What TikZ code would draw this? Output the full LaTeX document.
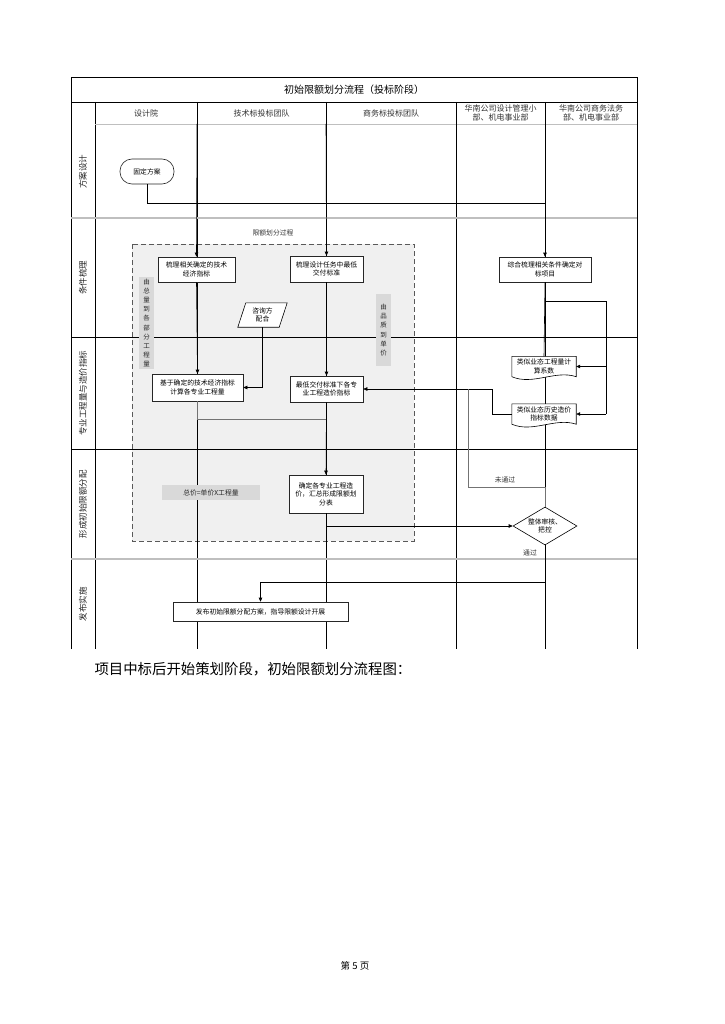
\documentclass[tikz,border=0pt]{standalone}
\usepackage{fontspec}
\setmainfont{Noto Sans CJK SC}
\usetikzlibrary{arrows.meta,shapes.geometric,calc}
\begin{document}
\begin{tikzpicture}[x=1pt,y=-1pt,
  box/.style={draw=black!85,fill=white,line width=0.6pt,inner sep=1pt,align=center,font=\fontsize{6.8}{8.5}\selectfont},
  arr/.style={-{Triangle[length=4pt,width=3.5pt]},line width=0.6pt},
  ln/.style={line width=0.6pt},
  thinln/.style={line width=0.6pt,black!55},
  grid/.style={line width=0.8pt,black},
  lanegray/.style={line width=1.3pt,black!25},
  lane/.style={rotate=90,font=\fontsize{8.5}{10}\selectfont,text=black!85},
  hdr/.style={font=\fontsize{8}{9.5}\selectfont,align=center,text=black!80},
  strip/.style={fill=black!15,inner sep=0pt,align=center,font=\fontsize{6.5}{9.2}\selectfont,text=black!85},
  lbl/.style={font=\fontsize{6.8}{8}\selectfont,text=black!80}
]
\useasboundingbox (0,0) rectangle (724,1024);
\fill[white] (0,0) rectangle (724,1024);

% dashed process region
\draw[black!65,fill=black!6,line width=0.8pt,dash pattern=on 5pt off 3pt] (132,244) rectangle (414,541);
\node[lbl] (regionlbl) at (273,233) {限额划分过程};

% frame and grid
\draw[grid] (71,649) -- (71,77) -- (637,77) -- (637,649);
\draw[grid] (71,102) -- (637,102);
\draw[grid] (95,102) -- (95,649);
\draw[lanegray,line width=0.9pt] (95,124) -- (637,124);
\foreach \cx in {197,326,456,545} \draw[grid] (\cx,102) -- (\cx,649);
\draw[lanegray] (71,218) -- (637,218);
\draw[grid] (71,337) -- (637,337);
\draw[grid] (71,449) -- (637,449);
\draw[lanegray] (71,559) -- (637,559);

% title and headers
\node[font=\fontsize{10}{12}\selectfont] (title) at (354,89.5) {初始限额划分流程（投标阶段）};
\node[hdr] (h1) at (146,113) {设计院};
\node[hdr] (h2) at (261.5,113) {技术标投标团队};
\node[hdr] (h3) at (391,113) {商务标投标团队};
\node[hdr] (h4) at (500.5,113) {华南公司设计管理小\\部、机电事业部};
\node[hdr] (h5) at (591,113) {华南公司商务法务\\部、机电事业部};

% lane labels
\node[lane] (l1) at (83,172) {方案设计};
\node[lane] (l2) at (83,277.5) {条件梳理};
\node[lane] (l3) at (83,393) {专业工程量与造价指标};
\node[lane] (l4) at (83,504) {形成初始限额分配};
\node[lane] (l5) at (83,604) {发布实施};

% gray strips
\node[strip,minimum width=15,minimum height=92] (s1) at (146.5,323) {由\\总\\量\\到\\各\\部\\分\\工\\程\\量};
\node[strip,minimum width=15,minimum height=72] (s2) at (383.5,330) {由\\品\\质\\到\\单\\价};
\node[strip,minimum width=98,minimum height=15,font=\fontsize{6.8}{8}\selectfont] (s3) at (211,492.5) {总价=单价X工程量};

% nodes
\node[box,rounded corners=12pt,minimum width=54,minimum height=25] (oval) at (147,171.5) {固定方案};
\node[box,minimum width=77,minimum height=25] (b1) at (196.5,269.5) {梳理相关确定的技术\\经济指标};
\node[box,minimum width=73,minimum height=26] (b2) at (326.5,269) {梳理设计任务中最低\\交付标准};
\node[box,minimum width=92,minimum height=25] (b6) at (545,269.5) {综合梳理相关条件确定对\\标项目};
\node[minimum width=49,minimum height=24,inner sep=0pt,align=center,font=\fontsize{6.8}{8.5}\selectfont] (par) at (262.5,315) {咨询方\\配合};
\draw[ln,fill=white] ($(par.north west)+(8,0)$) -- (par.north east) -- ($(par.south east)+(-8,0)$) -- (par.south west) -- cycle;
\node[align=center,font=\fontsize{6.8}{8.5}\selectfont] at (par.center) {咨询方\\配合};
\node[box,minimum width=91,minimum height=27] (b3) at (197.5,387.5) {基于确定的技术经济指标\\计算各专业工程量};
\node[box,minimum width=73,minimum height=26] (b4) at (326.5,389) {最低交付标准下各专\\业工程造价指标};
\node[box,minimum width=74,minimum height=38] (b5) at (326,494) {确定各专业工程造\\价，汇总形成限额划\\分表};
\node[box,minimum width=175,minimum height=19] (b7) at (260.5,611.5) {发布初始限额分配方案，指导限额设计开展};

% document shapes
\node[minimum width=64,minimum height=20,inner sep=0pt] (doc1) at (544,366.5) {};
\draw[ln,fill=white] (doc1.south west) -- (doc1.north west) -- (doc1.north east) -- (doc1.south east)
  .. controls ($(doc1.south east)+(-21,-7)$) and ($(doc1.south west)+(21,9)$) .. (doc1.south west);
\node[align=center,font=\fontsize{6.8}{8.5}\selectfont] at (doc1.center) {类似业态工程量计\\算系数};
\node[minimum width=64,minimum height=20,inner sep=0pt] (doc2) at (544,414) {};
\draw[ln,fill=white] (doc2.south west) -- (doc2.north west) -- (doc2.north east) -- (doc2.south east)
  .. controls ($(doc2.south east)+(-21,-7)$) and ($(doc2.south west)+(21,9)$) .. (doc2.south west);
\node[align=center,font=\fontsize{6.8}{8.5}\selectfont] at (doc2.center) {类似业态历史造价\\指标数据};

% decision
\node[diamond,draw,fill=white,line width=0.6pt,aspect=1.7,inner sep=0pt,minimum width=64,minimum height=38,align=center,font=\fontsize{6.8}{8.5}\selectfont] (dia) at (545,526) {整体审核、\\把控};

% coordinates
\coordinate (t1) at (197,124);
\coordinate (t2) at (326,124);
\coordinate (k1) at (545,203);
\coordinate (k4) at (606,301);
\coordinate (k5) at (492,389);
\coordinate (j1) at (326,419);
\coordinate (k6) at (545,487);
\coordinate (k7) at (468,487);
\coordinate (k8) at (468,389);
\coordinate (k9) at (545,582);

% connectors
\draw[arr] (oval.south) |- (k1) -- (b6.north);
\draw[arr] (t1) -- (b1.north);
\draw[arr] (t2) -- (b2.north);
\draw[arr] (b1.south) -- (b3.north);
\draw[arr] (b2.south) -- (b4.north);
\draw[arr] (par.south) |- (b3.east);
\draw[thinln] (b3.south) |- (j1);
\draw[arr] (b4.south) -- (b5.north);
\draw[arr] (b5.south) |- (dia.west);
\draw[ln] (b6.south) |- (k4) -- (k4 |- doc2.east);
\draw[arr] (k4 |- doc1.east) -- (doc1.east);
\draw[arr] (k4 |- doc2.east) -- (doc2.east);
\draw[ln] (b6.south) -- (doc1.north);
\draw[arr] (doc2.west) -| (k5) -- (b4.east);
\draw[thinln] (dia.north) -- (k6) -- (k7) -- (k8);
\draw[arr] (dia.south) -- (k9) -| (b7.north);
\node[lbl] (nopass) at (505,480) {未通过};
\node[lbl] (pass) at (530,553) {通过};

% caption and footer
\node[anchor=west,font=\fontsize{14.4}{16}\selectfont] (cap) at (91,669) {项目中标后开始策划阶段，初始限额划分流程图：};
\node[font=\fontsize{9.5}{11}\selectfont] (foot) at (355,966) {第 5 页};
\end{tikzpicture}
\end{document}
